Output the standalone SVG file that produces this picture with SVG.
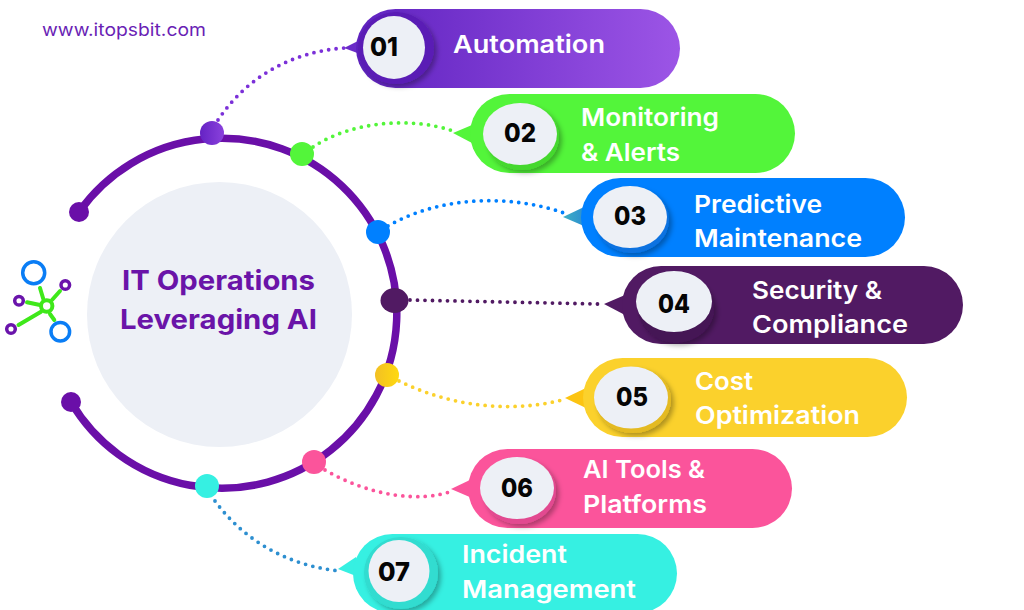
<svg xmlns="http://www.w3.org/2000/svg" width="1024" height="610" viewBox="0 0 1024 610">
<style>
.t{font-family:"Inter","Liberation Sans",sans-serif;font-weight:600;font-size:24.500px;fill:#fff}
.n{font-family:"Inter","Liberation Sans",sans-serif;font-weight:800;font-size:26px;fill:#050505}
.h{font-family:"Inter","Liberation Sans",sans-serif;font-weight:700;font-size:27.500px;fill:#6a14a8}
.c{fill:#edf0f6}
.d{fill:none;stroke-width:3.800;stroke-linecap:round;stroke-dasharray:0 7.500}
</style>
<defs>
<linearGradient id="g1" x1="0" x2="1"><stop offset="0" stop-color="#5f22c0"/><stop offset="1" stop-color="#9c55e6"/></linearGradient>
<linearGradient id="g2" x1="0" x2="1"><stop offset="0" stop-color="#6522c4"/><stop offset="1" stop-color="#8a42dc"/></linearGradient>
<linearGradient id="g3" x1="0" x2="1"><stop offset="0" stop-color="#f2c024"/><stop offset="1" stop-color="#ffd90f"/></linearGradient>
<linearGradient id="g4" x1="0" x2="1"><stop offset="0" stop-color="#3fb0c4"/><stop offset="1" stop-color="#2d8fd0"/></linearGradient>
<filter id="s" x="-30%" y="-30%" width="160%" height="160%"><feDropShadow dx="3" dy="3" stdDeviation="2.500" flood-color="#000" flood-opacity=".3"/></filter>
</defs>
<text x="42" y="36" lengthAdjust="spacingAndGlyphs" textLength="164" style="font-family:'Inter','Liberation Sans',sans-serif;font-size:17.500px;fill:#6a1fb5">www.itopsbit.com</text>
<g id="connectors">
<path class="d" stroke="#7b30d8" d="M218 120C246 78 290 52 344 48"/>
<path class="d" stroke="#53f53a" d="M313 147C350 122 410 116 453 131"/>
<path class="d" stroke="#0080ff" d="M388 226C440 196 510 194 564 213"/>
<path class="d" stroke="#511a63" d="M410 300L598 304"/>
<path class="d" stroke="#fbd12c" d="M399 381C450 406 510 414 566 399"/>
<path class="d" stroke="#fb549b" d="M325 470C370 496 420 503 452 491"/>
<path class="d" stroke="#2d8fd0" d="M215 501C245 542 290 566 340 571"/>
</g>
<g id="hub">
<circle cx="219.500" cy="314.500" r="132.500" class="c"/>
<path d="M79 212A175 175 0 1 1 71 402" fill="none" stroke="#6a0fa8" stroke-width="7.500" stroke-linecap="round"/>
<circle cx="79" cy="212" r="10" fill="#6a0fa8"/>
<circle cx="71" cy="402" r="10" fill="#6a0fa8"/>
<circle cx="212" cy="133" r="12" fill="url(#g2)"/>
<circle cx="302" cy="154" r="12" fill="#53f53a"/>
<circle cx="378" cy="232" r="12" fill="#0080ff"/>
<ellipse cx="394.500" cy="300.500" rx="14" ry="12.500" fill="#511a63"/>
<circle cx="387" cy="375" r="12" fill="url(#g3)"/>
<circle cx="314" cy="462" r="12" fill="#fb549b"/>
<circle cx="207" cy="486" r="12" fill="#36f0e2"/>
<text x="122" y="290" class="h" lengthAdjust="spacingAndGlyphs" textLength="193">IT Operations</text>
<text x="120" y="329" class="h" lengthAdjust="spacingAndGlyphs" textLength="197">Leveraging AI</text>
</g>
<g id="icon" fill="none" stroke-width="3.500">
<g stroke="#3fe81a" stroke-width="4" stroke-linecap="round"><path d="M40 288L43.300 299M60 291L52 300M27 302.300L40 305M18.500 325L41 311.700M50 314L54.300 320"/></g>
<circle cx="46.700" cy="306" r="5.700" stroke="#3fe81a" stroke-width="4"/>
<circle cx="33.700" cy="272.700" r="11" stroke="#0a7df5"/>
<circle cx="60.300" cy="331.700" r="9.300" stroke="#0a7df5"/>
<circle cx="65.300" cy="285" r="4.300" stroke="#6a14ab"/>
<circle cx="19" cy="300.700" r="4.300" stroke="#6a14ab"/>
<circle cx="11" cy="329" r="4.300" stroke="#6a14ab"/>
</g>
<g id="n1"><path fill="#6a2bc8" d="M344 48L360 40L360 54Z"/><rect x="356" y="9" width="324" height="79" rx="39.500" fill="url(#g1)"/><ellipse cx="396" cy="48" rx="38" ry="36" fill="#5a1cb5" filter="url(#s)"/><ellipse cx="394" cy="47.500" rx="31" ry="31.500" class="c"/><text x="370" y="56" class="n" lengthAdjust="spacingAndGlyphs" textLength="28">01</text><text x="453" y="53" class="t" lengthAdjust="spacingAndGlyphs" textLength="152">Automation</text></g>
<g id="n2"><path fill="#53f53a" d="M453 133L472 125L472 143Z"/><rect x="470" y="94" width="325" height="79" rx="39.500" fill="#53f53a"/><ellipse cx="522" cy="137" rx="37" ry="33" fill="#45d82e" filter="url(#s)"/><ellipse cx="520" cy="134" rx="37" ry="31" class="c"/><text x="504" y="142" class="n" lengthAdjust="spacingAndGlyphs" textLength="32">02</text><text x="581" y="126" class="t" lengthAdjust="spacingAndGlyphs" textLength="138">Monitoring</text><text x="581" y="161" class="t" lengthAdjust="spacingAndGlyphs" textLength="99">&amp; Alerts</text></g>
<g id="n3"><path fill="url(#g4)" d="M563 217L584 207L584 226Z"/><rect x="581" y="178" width="324" height="79" rx="39.500" fill="#0080ff"/><ellipse cx="632" cy="220" rx="37" ry="33" fill="#0a72e0" filter="url(#s)"/><ellipse cx="630" cy="217" rx="37" ry="31" class="c"/><text x="614" y="225" class="n" lengthAdjust="spacingAndGlyphs" textLength="32">03</text><text x="694" y="213" class="t" lengthAdjust="spacingAndGlyphs" textLength="128">Predictive</text><text x="694" y="247" class="t" lengthAdjust="spacingAndGlyphs" textLength="168">Maintenance</text></g>
<g id="n4"><path fill="#511a63" d="M604 304L625 295L625 315Z"/><rect x="622" y="266" width="341" height="78" rx="39" fill="#511a63"/><ellipse cx="676" cy="309" rx="38" ry="33.500" fill="#451455" filter="url(#s)"/><ellipse cx="674" cy="301.500" rx="38" ry="30.500" class="c"/><text x="658" y="313" class="n" lengthAdjust="spacingAndGlyphs" textLength="32">04</text><text x="752" y="299" class="t" lengthAdjust="spacingAndGlyphs" textLength="130">Security &amp;</text><text x="752" y="333" class="t" lengthAdjust="spacingAndGlyphs" textLength="156">Compliance</text></g>
<g id="n5"><path fill="#fcc412" d="M565 398L586 388L586 408Z"/><rect x="583" y="358" width="324" height="79" rx="39.500" fill="#fbd12c"/><ellipse cx="633" cy="400" rx="38" ry="33" fill="#e4ba20" filter="url(#s)"/><ellipse cx="631" cy="397.500" rx="37" ry="31" class="c"/><text x="616" y="406" class="n" lengthAdjust="spacingAndGlyphs" textLength="32">05</text><text x="695" y="390" class="t" lengthAdjust="spacingAndGlyphs" textLength="58">Cost</text><text x="695" y="424" class="t" lengthAdjust="spacingAndGlyphs" textLength="165">Optimization</text></g>
<g id="n6"><path fill="#fb549b" d="M451 489L472 479L472 498Z"/><rect x="468" y="449" width="324" height="79" rx="39.500" fill="#fb549b"/><ellipse cx="519" cy="491" rx="37" ry="33" fill="#e24a90" filter="url(#s)"/><ellipse cx="517" cy="488" rx="37" ry="31" class="c"/><text x="501" y="497" class="n" lengthAdjust="spacingAndGlyphs" textLength="32">06</text><text x="583" y="478" class="t" lengthAdjust="spacingAndGlyphs" textLength="122">AI Tools &amp;</text><text x="583" y="513" class="t" lengthAdjust="spacingAndGlyphs" textLength="124">Platforms</text></g>
<g id="n7"><path fill="#36f0e2" d="M338 569L356 557L356 576Z"/><rect x="353" y="534" width="324" height="79" rx="39.500" fill="#36f0e2"/><ellipse cx="401" cy="573" rx="37" ry="36" fill="#30dcd0" filter="url(#s)"/><ellipse cx="399" cy="571" rx="30.500" ry="31" class="c"/><text x="378" y="581" class="n" lengthAdjust="spacingAndGlyphs" textLength="32">07</text><text x="462" y="563" class="t" lengthAdjust="spacingAndGlyphs" textLength="105">Incident</text><text x="462" y="598" class="t" lengthAdjust="spacingAndGlyphs" textLength="174">Management</text></g>
</svg>
